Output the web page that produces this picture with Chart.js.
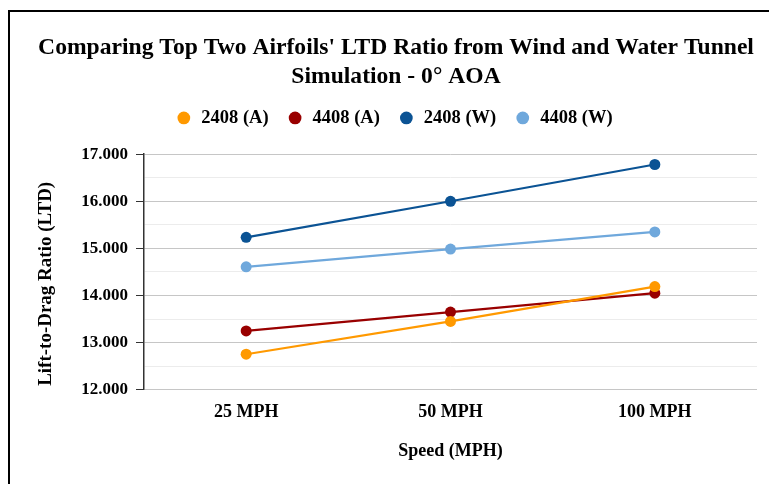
<!DOCTYPE html>
<html>
<head>
<meta charset="utf-8">
<script src="https://cdn.jsdelivr.net/npm/chart.js@4.4.1/dist/chart.umd.min.js"></script>
<style>
  html, body { margin: 0; padding: 0; background: #fff; overflow: hidden; }
  #wrap { position: relative; width: 769px; height: 484px; overflow: hidden; }
  #frame { position: absolute; left: 8px; top: 10px; width: 800px; height: 500px;
           border-top: 2px solid #000; border-left: 2px solid #000; pointer-events: none; }
</style>
</head>
<body>
<div id="wrap">
  <canvas id="c" width="769" height="484"></canvas>
  <div id="frame"></div>
</div>
<script>
// Speeds tested
const speeds = ['25 MPH', '50 MPH', '100 MPH'];

// Lift-to-drag ratio per airfoil: (A) = air / wind tunnel, (W) = water tunnel
const ltd2408A = [12.755, 13.45, 14.19];
const ltd4408A = [13.25, 13.65, 14.05];
const ltd2408W = [15.235, 16.0, 16.78];
const ltd4408W = [14.61, 14.985, 15.35];

const seriesNames = ['2408 (A)', '4408 (A)', '2408 (W)', '4408 (W)'];
const seriesColors = ['#ff9900', '#990000', '#0b5394', '#6fa8dc'];

const titleLines = ["Comparing Top Two Airfoils' LTD Ratio from Wind and Water Tunnel", 'Simulation - 0° AOA'];

const FONT = "'Liberation Serif', 'Times New Roman', serif";
const isMajor = v => Math.abs(v - Math.round(v)) < 1e-6;

const seriesValues = [ltd2408A, ltd4408A, ltd2408W, ltd4408W];
const datasets = seriesValues.map((vals, i) => ({
  label: seriesNames[i],
  data: vals,
  borderColor: seriesColors[i],
  backgroundColor: seriesColors[i],
  borderWidth: 2.2,
  pointRadius: 5.5,
  pointHoverRadius: 5.5,
  pointBorderWidth: 0,
  tension: 0
}));

// Leaves some extra room between the legend row and the plot area
const legendGap = {
  id: 'legendGap',
  beforeLayout(chart) {
    const lg = chart.legend;
    if (lg && !lg._gapPatched) {
      const fit = lg.fit;
      lg.fit = function () { fit.call(this); this.height += 17; };
      lg._gapPatched = true;
    }
  }
};

new Chart(document.getElementById('c'), {
  type: 'line',
  data: { labels: speeds, datasets },
  plugins: [legendGap],
  options: {
    responsive: false,
    devicePixelRatio: 1,
    animation: false,
    layout: { padding: { top: 34, right: 12, bottom: 22, left: 35 } },
    plugins: {
      title: {
        display: true,
        text: titleLines,
        color: '#000',
        font: { family: FONT, size: 23.6, weight: 'bold', lineHeight: 1.2 },
        padding: { top: 0, bottom: -4 }
      },
      legend: {
        display: true,
        labels: {
          usePointStyle: true,
          pointStyle: 'circle',
          boxWidth: 9,
          boxHeight: 9,
          padding: 22,
          color: '#000',
          font: { family: FONT, size: 18.5, weight: 'bold' },
          // a thin space between the marker and each name
          generateLabels: chart =>
            Chart.defaults.plugins.legend.labels.generateLabels(chart)
              .map(item => Object.assign(item, { text: '\u2009' + item.text }))
        }
      },
      tooltip: { enabled: false }
    },
    scales: {
      x: {
        offset: true,
        grid: { display: false, drawTicks: false },
        border: { display: false },
        ticks: { color: '#000', padding: 12, font: { family: FONT, size: 18, weight: 'bold' } },
        title: {
          display: true,
          text: 'Speed (MPH)',
          color: '#000',
          font: { family: FONT, size: 18, weight: 'bold' },
          padding: { top: 5, bottom: 0 }
        }
      },
      y: {
        min: 12,
        max: 17,
        afterFit: scale => { scale.width = 109; },
        ticks: {
          stepSize: 0.5,
          padding: 8,
          color: '#000',
          font: { family: FONT, size: 17, weight: 'bold' },
          callback: v => isMajor(v) ? v.toFixed(3) : ''
        },
        grid: {
          drawTicks: true,
          tickLength: 8,
          lineWidth: 1,
          color: ctx => isMajor(ctx.tick.value) ? '#c6c6c6' : '#ececec',
          tickColor: ctx => isMajor(ctx.tick.value) ? '#333' : 'rgba(0,0,0,0)'
        },
        border: { display: true, color: '#333', width: 1.5 },
        title: {
          display: true,
          text: 'Lift-to-Drag Ratio (LTD)\u00a0\u00a0\u00a0\u00a0\u00a0',
          color: '#000',
          font: { family: FONT, size: 19, weight: 'bold' },
          padding: { top: 0, bottom: 0 }
        }
      }
    }
  }
});
</script>
</body>
</html>
